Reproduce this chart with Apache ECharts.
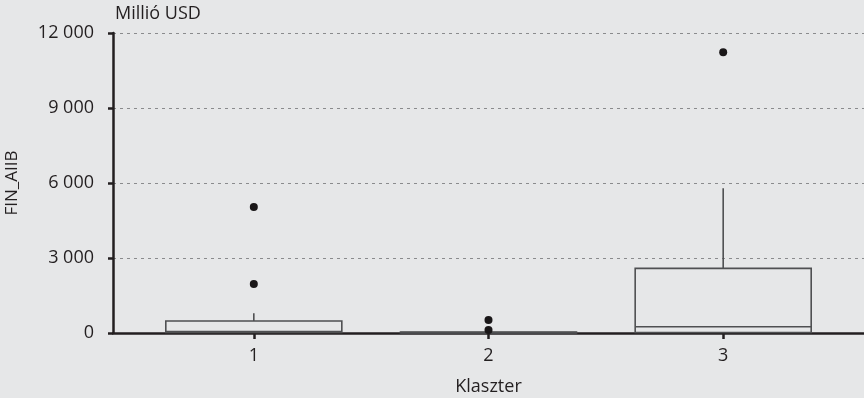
<!DOCTYPE html>
<html>
<head>
<meta charset="utf-8">
<script src="https://cdn.jsdelivr.net/npm/echarts@6/dist/echarts.min.js"></script>
<style>
html,body{margin:0;padding:0;background:#e6e7e8;}
#c{width:864px;height:398px;}
</style>
</head>
<body>
<div id="c"></div>
<script>
const clusters = ['1', '2', '3'];
const clusterPos = [1, 2, 3];
const boxMin = [0, 0, 0];
const boxQ1 = [20, 0, 20];
const boxMedian = [60, 15, 253];
const boxQ3 = [480, 40, 2587];
const boxMax = [787, 80, 5787];
const outlierCluster = [1, 1, 2, 2, 3];
const outlierValue = [5040, 1960, 520, 120, 11227];

const FONT = '"Open Sans", sans-serif';
const TXT = '#231f20';
const BOX = '#4f5052';

const boxData = clusterPos.map((x, i) => [x, boxMin[i], boxQ1[i], boxMedian[i], boxQ3[i], boxMax[i]]);
const outData = outlierCluster.map((c, i) => [c, outlierValue[i]]);

function renderBox(params, api) {
  const x = api.value(0);
  const pMin = api.coord([x, api.value(1)]);
  const pQ1 = api.coord([x, api.value(2)]);
  const pMed = api.coord([x, api.value(3)]);
  const pQ3 = api.coord([x, api.value(4)]);
  const pMax = api.coord([x, api.value(5)]);
  const half = api.size([0.75, 0])[0] / 2;
  const style = { stroke: BOX, lineWidth: 1.6, fill: null };
  return {
    type: 'group',
    children: [
      { type: 'line', shape: { x1: pQ3[0], y1: pQ3[1], x2: pMax[0], y2: pMax[1] }, style: style },
      { type: 'line', shape: { x1: pQ1[0], y1: pQ1[1], x2: pMin[0], y2: pMin[1] }, style: style },
      { type: 'rect', shape: { x: pQ3[0] - half, y: pQ3[1], width: half * 2, height: pQ1[1] - pQ3[1] }, style: style },
      { type: 'line', shape: { x1: pMed[0] - half, y1: pMed[1], x2: pMed[0] + half, y2: pMed[1] }, style: style }
    ]
  };
}

const chart = echarts.init(document.getElementById('c'));
chart.setOption({
  backgroundColor: '#e6e7e8',
  animation: false,
  title: {
    text: 'Millió USD', left: 110, top: 0,
    textStyle: { fontFamily: FONT, fontSize: 18, fontWeight: 'normal', color: TXT }
  },
  grid: { left: 113, right: 0, top: 33, bottom: 65, outerBoundsMode: 'none', containLabel: false },
  xAxis: {
    type: 'value', min: 0.4, max: 3.6,
    name: 'Klaszter', nameLocation: 'middle', nameGap: 45,
    nameTextStyle: { fontFamily: FONT, fontSize: 18, color: TXT },
    axisLine: { show: true, onZero: false, lineStyle: { color: TXT, width: 2.5 } },
    axisTick: { show: true, customValues: clusterPos, length: 6, lineStyle: { color: TXT, width: 2.5 } },
    axisLabel: {
      customValues: clusterPos, margin: 14,
      formatter: v => clusters[clusterPos.indexOf(v)],
      fontFamily: FONT, fontSize: 18, color: TXT
    },
    splitLine: { show: false }
  },
  yAxis: {
    type: 'value', min: 0, max: 12000, interval: 3000,
    name: 'FIN_AIIB', nameLocation: 'middle', nameGap: 92,
    nameTextStyle: { fontFamily: FONT, fontSize: 17, color: TXT },
    axisLine: { show: true, lineStyle: { color: TXT, width: 2.5 } },
    axisTick: { show: true, length: 5, lineStyle: { color: TXT, width: 2.5 } },
    axisLabel: {
      margin: 19, fontFamily: FONT, fontSize: 18, color: TXT,
      formatter: v => String(v).replace(/\B(?=(\d{3})+(?!\d))/g, ' ')
    },
    splitLine: { show: true, lineStyle: { color: '#8a8b8d', width: 1, type: [3, 4] } }
  },
  series: [
    {
      type: 'custom',
      renderItem: renderBox,
      data: boxData,
      encode: { x: 0, y: [1, 2, 3, 4, 5] },
      z: 3
    },
    {
      type: 'scatter',
      data: outData,
      symbolSize: 8,
      itemStyle: { color: '#1a1718', opacity: 1 },
      z: 4
    }
  ]
});
</script>
</body>
</html>
